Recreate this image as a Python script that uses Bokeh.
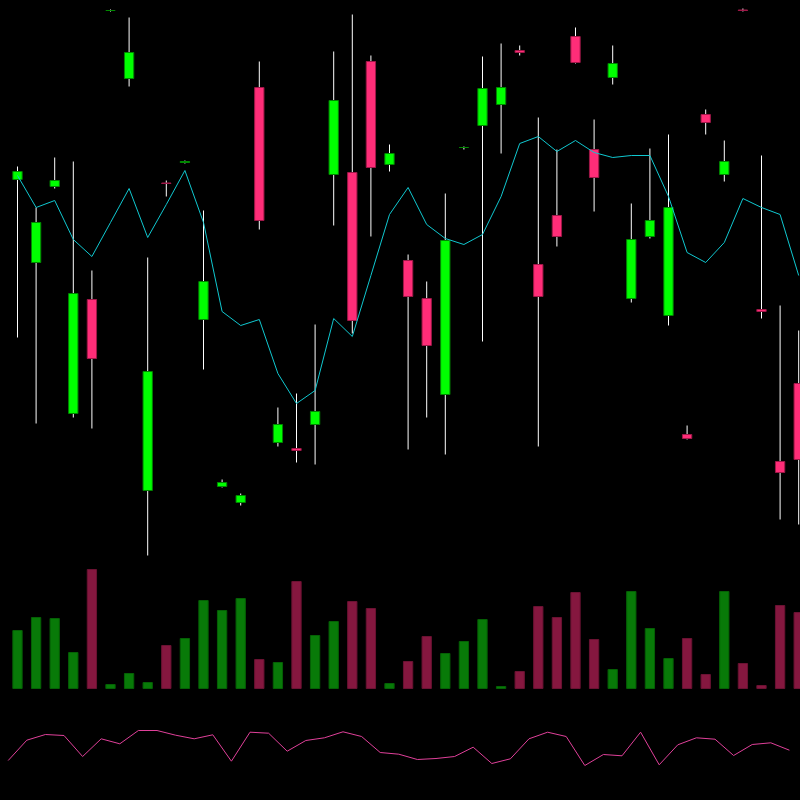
from bokeh.plotting import figure
from bokeh.layouts import column
from bokeh.models import ColumnDataSource, Range1d
from bokeh.embed import file_html
from bokeh.resources import INLINE

# ---- data ----
open_ = [62.1, 53.8, 61.4, 38.7, 50.1, 79.0, 72.2, 31.0, 61.75, 63.8,
         48.1, 31.4, 29.8, 71.3, 35.8, 35.2, 37.6, 62.6, 62.8, 73.9,
         63.6, 54.0, 50.2, 40.6, 65.3, 67.5, 69.6, 75.0, 53.6, 58.5,
         76.4, 65.1, 72.3, 50.2, 56.4, 48.5, 36.6, 68.6, 62.6, 79.05,
         49.1, 33.9, 41.7]
close = [62.9, 57.8, 62.0, 50.7, 44.2, 79.0, 74.8, 42.9, 61.7, 63.9,
         51.9, 31.8, 30.5, 58.0, 37.6, 35.0, 38.9, 70.0, 48.0, 63.3,
         64.7, 50.4, 45.5, 56.0, 65.3, 71.2, 71.3, 74.8, 50.4, 56.4,
         73.8, 62.3, 73.7, 56.1, 58.0, 59.3, 36.2, 67.8, 63.9, 79.0,
         48.9, 32.8, 34.1]
high = [63.4, 59.3, 64.3, 63.9, 53.0, 79.1, 78.3, 54.3, 62.0, 64.0,
        59.0, 32.1, 30.7, 73.9, 39.3, 40.7, 47.6, 74.9, 78.6, 74.5,
        65.6, 54.6, 51.9, 60.7, 65.4, 74.4, 75.7, 75.5, 68.3, 65.1,
        77.3, 68.1, 75.5, 59.7, 65.2, 66.6, 37.5, 69.1, 66.0, 79.2,
        64.5, 49.5, 47.0]
low = [46.3, 37.7, 61.2, 38.3, 37.2, 78.9, 71.4, 24.5, 60.4, 63.7,
       43.1, 31.3, 29.5, 57.1, 35.4, 33.8, 33.6, 57.5, 46.7, 56.4,
       62.9, 35.1, 38.3, 34.6, 65.1, 45.9, 64.7, 74.5, 35.4, 55.4,
       73.7, 58.9, 71.6, 49.8, 56.2, 47.5, 36.1, 66.6, 61.9, 78.9,
       48.2, 28.1, 27.6]
avg_line = [62.5, 59.3, 60.0, 56.1, 54.4, 57.8, 61.2, 56.3, 59.6, 63.0,
            57.8, 48.9, 47.5, 48.1, 42.7, 39.7, 41.0, 48.2, 46.4, 52.5,
            58.6, 61.3, 57.6, 56.2, 55.6, 56.6, 60.4, 65.7, 66.4, 64.9,
            66.0, 64.8, 64.3, 64.5, 64.5, 60.4, 54.8, 53.8, 55.8, 60.2,
            59.3, 58.6, 52.5]
volume = [58, 71, 70, 36, 119, 4, 15, 6, 43, 50,
          88, 78, 90, 29, 26, 107, 53, 67, 87, 80,
          5, 27, 52, 35, 47, 69, 2, 17, 82, 71,
          96, 49, 19, 97, 60, 30, 50, 14, 97, 25,
          3, 83, 76]
osc = [40, 60.3, 66, 65, 44, 61.7, 56.7, 70, 70, 65.3,
       61.7, 65.7, 39.3, 68.3, 67.3, 49.3, 60, 62.7, 68.7, 64,
       48, 46.3, 41, 42, 44, 53.3, 37, 41.7, 61.7, 68.3,
       64, 35, 46, 44.7, 68.3, 35.7, 55.7, 62.7, 61.3, 45,
       56, 57.7, 50.3]

n = len(open_)
idx = list(range(n))
up = [c >= o for o, c in zip(open_, close)]

body_fill = ["#00ff00" if u else "#ff2d78" for u in up]
body_line = ["#008800" if u else "#a01848" for u in up]
vol_fill = ["#087a08" if u else "#85173f" for u in up]
vol_line = ["#056005" if u else "#6a1232" for u in up]

src = ColumnDataSource(dict(x=idx, open=open_, close=close, high=high, low=low,
                            bf=body_fill, bl=body_line, avg=avg_line,
                            vol=volume, vf=vol_fill, vl=vol_line, osc=osc))

W = 800
x0 = -17 / 18.6
x1 = (W - 17) / 18.6
xr = Range1d(x0, x1)


def base(h, yr, xrange):
    p = figure(width=W, height=h, x_range=xrange, y_range=yr,
               output_backend="svg", toolbar_location=None,
               x_axis_location=None, y_axis_location=None,
               min_border=0, background_fill_color="black",
               border_fill_color="black", outline_line_color=None)
    p.grid.visible = False
    return p


# price panel
p1 = base(560, Range1d(24, 80), xr)
p1.segment(x0="x", y0="low", x1="x", y1="high", source=src,
           line_color="white", line_width=1)
p1.vbar(x="x", top="open", bottom="close", width=0.5, source=src,
        fill_color="bf", line_color="bl", line_width=1)
p1.line(x="x", y="avg", source=src, line_color="#10c8d0", line_width=1)

# volume panel
p2 = base(140, Range1d(-12, 128), xr)
p2.vbar(x="x", top="vol", bottom=0, width=0.5, source=src,
        fill_color="vf", line_color="vl", line_width=1)

# oscillator panel (plotted half a bar to the left)
p3 = base(100, Range1d(0, 100), Range1d(x0 + 0.5, x1 + 0.5))
p3.line(x="x", y="osc", source=src, line_color="#e0409a", line_width=1)

layout = column(p1, p2, p3, spacing=0, background="black")

html = file_html(layout, INLINE, title="chart")
html = html.replace("<head>", "<head><style>html,body{margin:0;padding:0;background:#000;}</style>", 1)
open("out.html", "w").write(html)
